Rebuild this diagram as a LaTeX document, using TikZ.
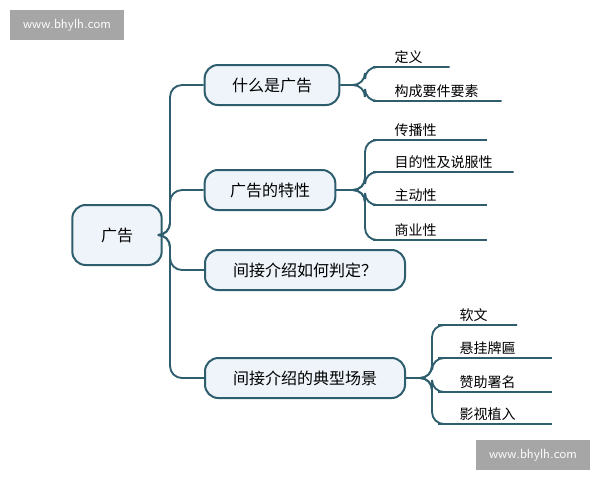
\documentclass[tikz,border=0pt]{standalone}
\usepackage{fontspec}
\setmainfont{Noto Sans CJK SC}
\definecolor{lineblue}{HTML}{2E5E6E}
\definecolor{boxfill}{HTML}{EEF4FA}
\definecolor{markgray}{HTML}{A6A6A6}
\begin{document}
\begin{tikzpicture}[
            x=0.75pt, y=-0.75pt,
            topic/.style={
                draw=lineblue,
                line width=1.5pt,
                fill=boxfill,
                rounded corners=10pt,
                minimum height=30pt,
                inner xsep=12pt,
                font=\fontsize{12}{14}\selectfont
            },
            leaf/.style={
                anchor=south west,
                inner xsep=7pt,
                inner ysep=2pt,
                align=left,
                font=\fontsize{10.5}{12}\selectfont
            },
            link/.style={
                draw=lineblue,
                line width=1.4pt,
                rounded corners=9pt
            },
            stamp/.style={
                fill=markgray,
                text=white,
                minimum width=85pt,
                minimum height=22pt,
                font=\sffamily\fontsize{10}{12}\selectfont
            }
        ]
        \useasboundingbox (0,0) rectangle (600,480);
        \node[stamp] (wm1) at (67,25) {www.bhylh.com};
        \node[stamp] (wm2) at (533,455) {www.bhylh.com};
        \node[topic, minimum width=67pt, minimum height=45pt] (root) at (117,235) {广告};
        \node[topic, minimum width=101pt] (what) at (272,85) {什么是广告};
        \node[topic, minimum width=98pt] (trait) at (270,190) {广告的特性};
        \node[topic, minimum width=150pt] (judge) at (305,270) {间接介绍如何判定？};
        \node[topic, minimum width=150pt] (scene) at (305,378) {间接介绍的典型场景};
        \foreach \t in {what, trait, judge, scene}
            \draw[link] (root.east) -- (170,235) |- (\t.west);
        % leaves
        \node[leaf, text width=34pt] (def) at (385,67) {定义};
        \node[leaf, text width=73pt] (elem) at (385,101) {构成要件要素};
        \node[leaf, text width=62pt] (spread) at (385,140) {传播性};
        \node[leaf, text width=82pt] (purp) at (385,172) {目的性及说服性};
        \node[leaf, text width=62pt] (active) at (385,205) {主动性};
        \node[leaf, text width=62pt] (comm) at (385,240) {商业性};
        \node[leaf, text width=36pt] (soft) at (450,325) {软文};
        \node[leaf, text width=62pt] (plaque) at (450,358) {悬挂牌匾};
        \node[leaf, text width=62pt] (spons) at (450,392) {赞助署名};
        \node[leaf, text width=62pt] (film) at (450,424) {影视植入};
        \foreach \l in {def, elem}
            \draw[link] (what.east) -- (365,85) |- (\l.south west) -- (\l.south east);
        \foreach \l in {spread, purp, active, comm}
            \draw[link] (trait.east) -- (365,190) |- (\l.south west) -- (\l.south east);
        \foreach \l in {soft, plaque, spons, film}
            \draw[link] (scene.east) -- (432,378) |- (\l.south west) -- (\l.south east);
        \end{tikzpicture}
\end{document}
